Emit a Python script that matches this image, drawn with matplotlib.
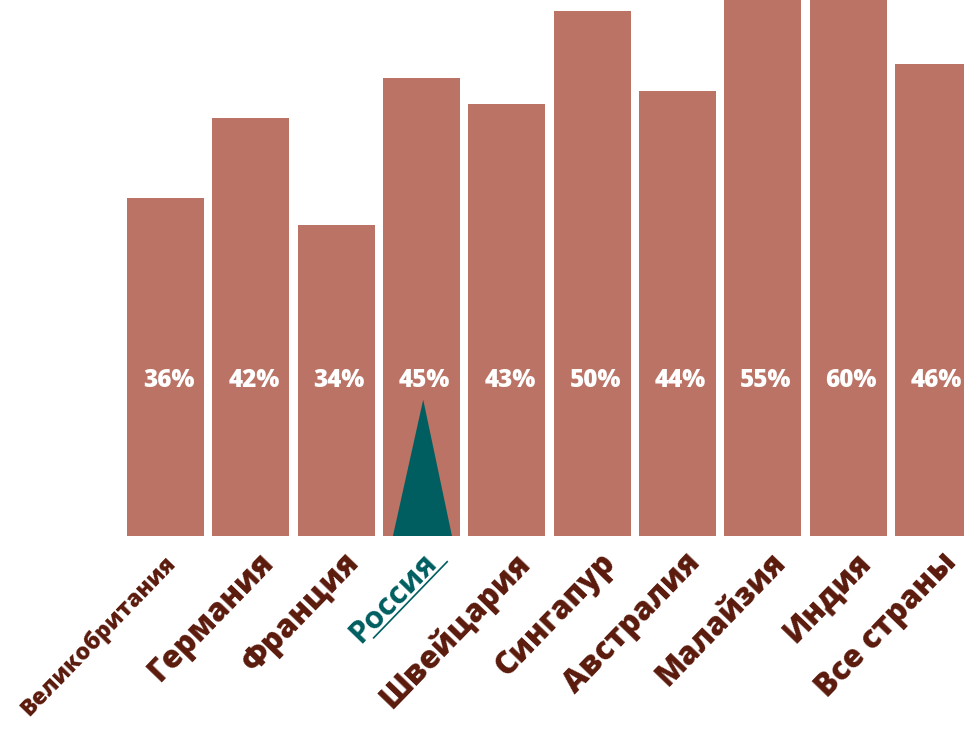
import matplotlib
matplotlib.use("Agg")
import matplotlib.pyplot as plt
import matplotlib.transforms as mtransforms
from matplotlib.patches import Polygon
from matplotlib.lines import Line2D
import numpy as np

countries = ["Великобритания", "Германия", "Франция", "Россия", "Швейцария",
             "Сингапур", "Австралия", "Малайзия", "Индия", "Все страны"]
values = [36, 42, 34, 45, 43, 50, 44, 55, 60, 46]
value_labels = ["36%", "42%", "34%", "45%", "43%", "50%", "44%", "55%", "60%", "46%"]
highlight = "Россия"

BAR = "#BB7365"
TEAL = "#005E60"
BROWN = "#5A1A0C"
FONT = ["Open Sans", "DejaVu Sans"]

DPI = 100
fig = plt.figure(figsize=(9.64, 7.31), dpi=DPI)
ax = fig.add_axes([127 / 964, (731 - 536) / 731, 1 - 127 / 964, 536 / 731])
x = np.arange(len(countries))
ax.bar(x, values, width=0.902, color=BAR, zorder=1)
ax.set_xlim(-0.451, 9.357)
ax.set_ylim(10.7, 50.8)
ax.axis("off")

# value labels
for xi, lab in zip(x, value_labels):
    tr = ax.get_xaxis_transform() + mtransforms.ScaledTranslation(3 / DPI, 0, fig.dpi_scale_trans)
    ax.text(xi, 0.291, lab, transform=tr, ha="center", va="center",
            color="white", fontsize=17.5, fontweight="heavy", family=FONT, zorder=3)

# triangle marker inside highlighted bar
hi = countries.index(highlight)
tri = Polygon([[hi - 0.335, 10.7], [hi + 0.357, 10.7], [hi + 0.02, 20.9]],
              closed=True, facecolor=TEAL, edgecolor="none", zorder=2)
ax.add_patch(tri)

# category labels
ROT = 46
fig.canvas.draw()
renderer = fig.canvas.get_renderer()
for xi, name in zip(x, countries):
    fs, col, weight, dx, dy = 22.5, BROWN, "heavy", 7, -11
    if name == "Великобритания":
        fs, dx, dy = 16.5, -2, -15
    if name == highlight:
        fs, col, weight, dx, dy = 22.5, TEAL, "bold", 0, -12
    tr = ax.get_xaxis_transform() + mtransforms.ScaledTranslation(dx / DPI, dy / DPI, fig.dpi_scale_trans)
    ax.text(xi, 0, name, transform=tr, ha="right", va="top", rotation=ROT,
            rotation_mode="anchor", color=col, fontsize=fs, fontweight=weight,
            family=FONT, clip_on=False)
    if name == highlight:
        tmp = ax.text(0, 0, name, fontsize=fs, fontweight=weight, family=FONT)
        bb = tmp.get_window_extent(renderer)
        tmp.remove()
        w, h = bb.width, bb.height
        ax_pt = tr.transform((xi, 0))
        th = np.deg2rad(ROT)
        u = np.array([np.cos(th), np.sin(th)])
        n = np.array([np.sin(th), -np.cos(th)])
        start = ax_pt - u * (w - 14) + n * (h - 2)
        end = ax_pt + u * 8 + n * (h - 2)
        fig.lines.append(Line2D([start[0], end[0]], [start[1], end[1]],
                                transform=None, color=TEAL, lw=1.2))

fig.savefig("out.png", dpi=DPI)
